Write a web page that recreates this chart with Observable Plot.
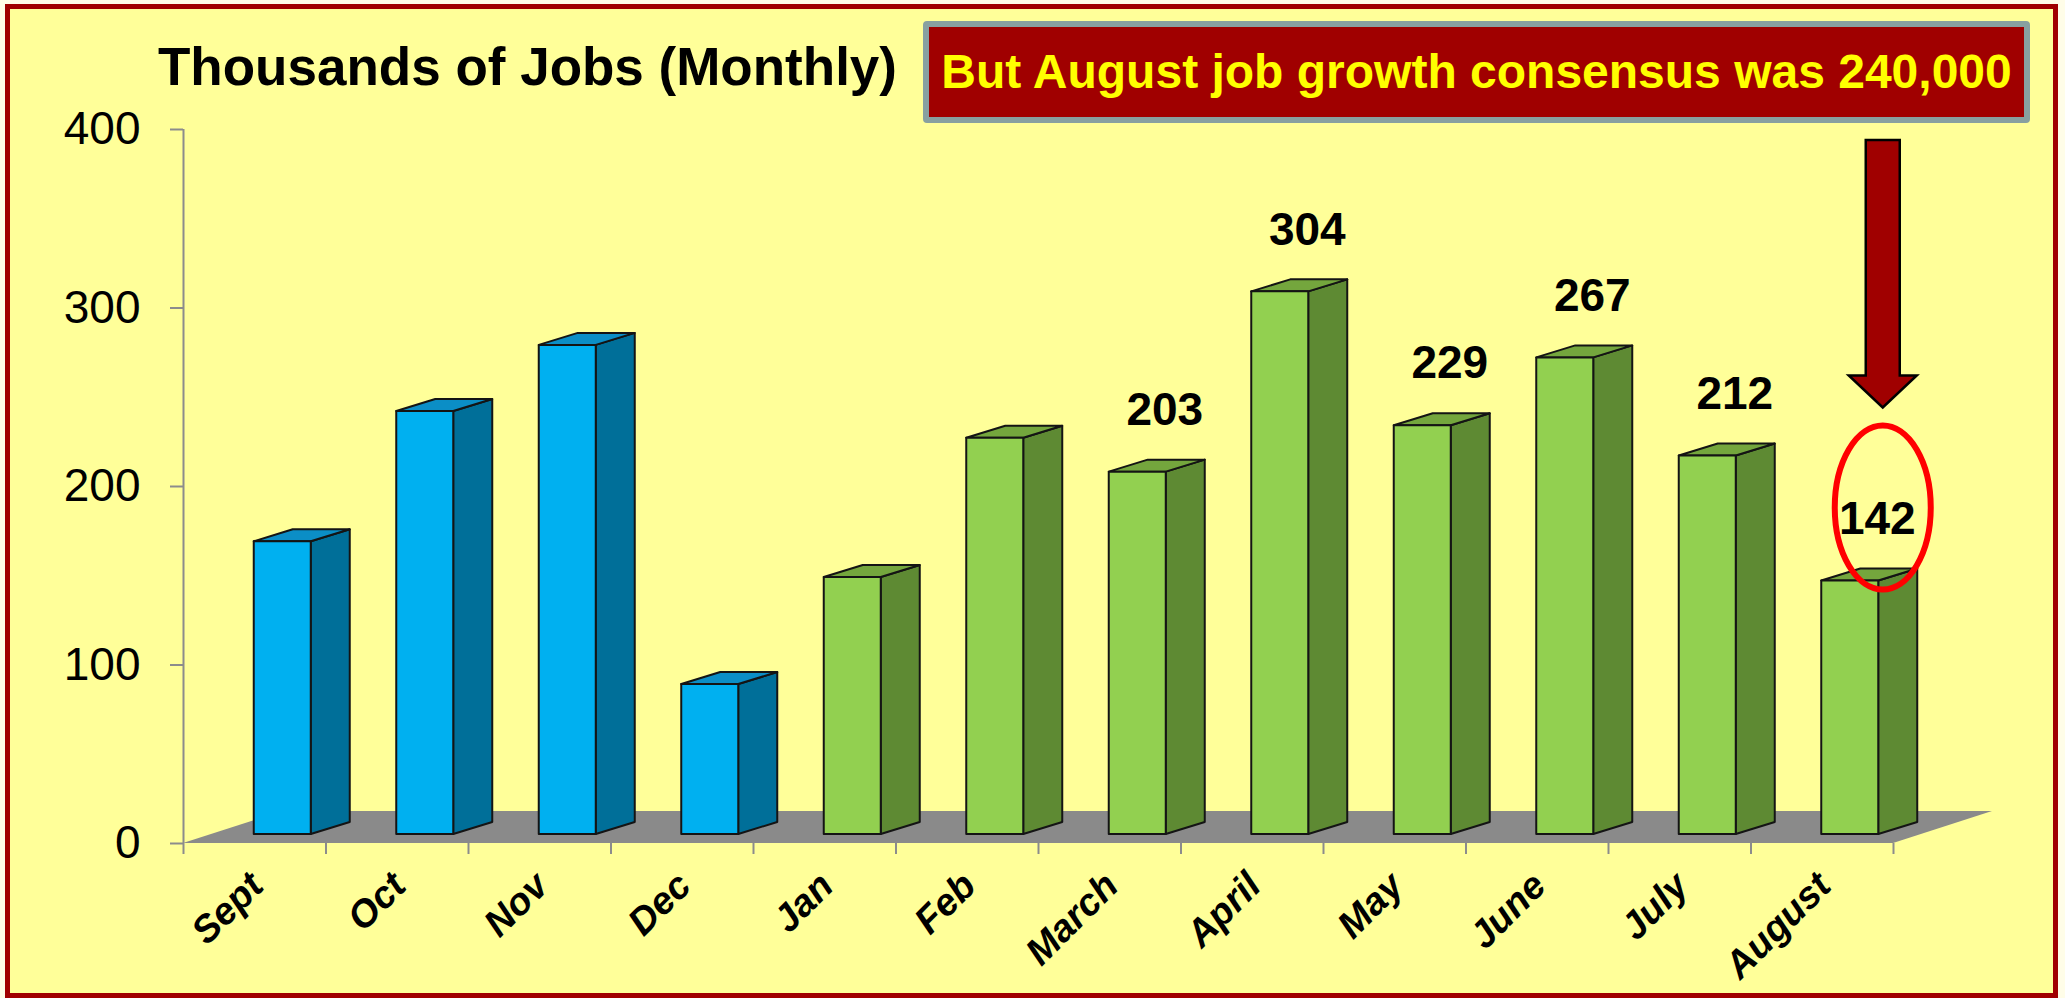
<!DOCTYPE html>
<html>
<head>
<meta charset="utf-8">
<script src="https://cdn.jsdelivr.net/npm/d3@7"></script>
<script src="https://cdn.jsdelivr.net/npm/@observablehq/plot@0.6"></script>
<style>
  html, body { margin: 0; padding: 0; width: 2065px; height: 998px; overflow: hidden; background: #fffde8;
    font-family: "Liberation Sans", Arial, Helvetica, sans-serif; }
  #frame { position: absolute; left: 5px; top: 4px; width: 2053px; height: 994px; box-sizing: border-box;
    border: 5px solid #a00000; background: #ffff99; }
  #chart { position: absolute; left: 0; top: 0; }
  #title { position: absolute; left: 158px; top: 40px; font-size: 53px; line-height: 53px; font-weight: bold;
    color: #000; white-space: nowrap; }
  #note { position: absolute; left: 923px; top: 21px; width: 1107px; height: 102px; box-sizing: border-box;
    border: 6px solid #88a0a0; border-radius: 4px; background: #a00000; }
  #noteText { position: absolute; left: 0; right: 0; top: 21px; text-align: center; font-size: 48px;
    line-height: 48px; font-weight: bold; color: #ffff00; white-space: nowrap; }
</style>
</head>
<body>
<div id="frame"></div>
<div id="chart"></div>
<div id="title">Thousands of Jobs (Monthly)</div>
<div id="note"><div id="noteText">But August job growth consensus was 240,000</div></div>
<script>
// ---- data ----
const months = ["Sept", "Oct", "Nov", "Dec", "Jan", "Feb", "March", "April", "May", "June", "July", "August"];
const jobs = [164, 237, 274, 84, 144, 222, 203, 304, 229, 267, 212, 142];
const years = [2013, 2013, 2013, 2013, 2014, 2014, 2014, 2014, 2014, 2014, 2014, 2014];
const labeledMonths = ["March", "April", "May", "June", "July", "August"];
const yTicks = [0, 100, 200, 300, 400];
const highlightMonth = "August";

// ---- styling ----
const palette = {
  2013: {front: "#00b0f0", side: "#006f99", top: "#0b8ec6"},
  2014: {front: "#92d050", side: "#5e8a33", top: "#74a63d"}
};
const W = 2065, H = 998;
const mL = 183, mR = 172, mT = 129, mB = 155;
const nCat = months.length;
const kx = (W - mL - mR) / nCat;      // px per category
const ky = (H - mT - mB) / 400;       // px per thousand
const barW = 0.4;
const plane = {dx: 28, dy: -9};       // bar plane offset (px)
const ddx = 39 / kx, ddy = 12 / ky;   // bar depth in data units
const fdx = 99 / kx, fdy = 32 / ky;   // floor depth in data units
const edge = {stroke: "#141414", strokeWidth: 2, strokeLinejoin: "round"};

const bars = months.map((m, i) => ({i, m, v: jobs[i], pal: palette[years[i]]}));
const sideData = bars.flatMap(b => [
  {i: b.i, x: b.i + 0.5 + barW / 2, y1: 0, y2: b.v, fill: b.pal.side},
  {i: b.i, x: b.i + 0.5 + barW / 2 + ddx, y1: ddy, y2: b.v + ddy, fill: b.pal.side}
]);
const topData = bars.flatMap(b => [
  {i: b.i, y: b.v, x1: b.i + 0.5 - barW / 2, x2: b.i + 0.5 + barW / 2, fill: b.pal.top},
  {i: b.i, y: b.v + ddy, x1: b.i + 0.5 - barW / 2 + ddx, x2: b.i + 0.5 + barW / 2 + ddx, fill: b.pal.top}
]);
const floorData = [
  {y: 0, x1: 0, x2: nCat},
  {y: fdy, x1: fdx, x2: nCat + fdx}
];
const labelData = bars.filter(b => labeledMonths.includes(b.m));
const hi = bars.find(b => b.m === highlightMonth);

function annotation(index, scales) {
  const sx = scales.x, sy = scales.y;
  const cx = sx(hi.i + 0.5) + 61;
  const cy = sy(hi.v) - 82;
  const g = d3.create("svg:g");
  // arrow
  const top = 140, tip = cy - 82 - 18, headBase = tip - 32, sw = 17, hw = 34;
  g.append("path")
    .attr("d", `M${cx - sw},${top} L${cx + sw},${top} L${cx + sw},${headBase} L${cx + hw},${headBase} L${cx},${tip} L${cx - hw},${headBase} L${cx - sw},${headBase} Z`)
    .attr("fill", "#a00000").attr("stroke", "#000").attr("stroke-width", 2.5).attr("stroke-linejoin", "miter");
  // ellipse
  g.append("ellipse").attr("cx", cx).attr("cy", cy).attr("rx", 48).attr("ry", 82)
    .attr("fill", "none").attr("stroke", "#ff0000").attr("stroke-width", 6);
  return g.node();
}

const chart = Plot.plot({
  width: W, height: H,
  marginLeft: mL, marginRight: mR, marginTop: mT, marginBottom: mB,
  x: {domain: [0, nCat], axis: null},
  y: {domain: [0, 400], axis: null},
  color: {type: "identity"},
  style: {background: "transparent", fontFamily: "Liberation Sans, Arial, sans-serif", color: "#000", overflow: "visible"},
  marks: [
    // floor
    Plot.area(floorData, {x1: "x1", x2: "x2", y1: "y", fill: "#8a8a8a"}),
    // y axis
    Plot.ruleX([0], {y1: 0, y2: 400, stroke: "#8c8c8c", strokeWidth: 2}),
    Plot.axisY({ticks: yTicks, tickSize: 13, tickPadding: 30, fontSize: 46, stroke: "#8c8c8c", strokeWidth: 2, fill: "#000", label: null, tickFormat: d => String(d)}),
    // x ticks at category boundaries
    Plot.axisX({ticks: d3.range(nCat + 1), tickSize: 11, tickFormat: () => "", stroke: "#8c8c8c", strokeWidth: 2, label: null}),
    // x labels
    Plot.text(bars, {x: b => b.i + 0.5, y: 0, text: "m", rotate: -45, textAnchor: "end", dx: 2, dy: 36,
      fontSize: 38, fontWeight: "bold", fontStyle: "italic", fill: "#000"}),
    // bar faces
    Plot.area(sideData, {x1: "x", y1: "y1", y2: "y2", z: "i", fill: "fill", ...edge, dx: plane.dx, dy: plane.dy}),
    Plot.area(topData, {x1: "x1", x2: "x2", y1: "y", z: "i", fill: "fill", ...edge, dx: plane.dx, dy: plane.dy}),
    Plot.rect(bars, {x1: b => b.i + 0.5 - barW / 2, x2: b => b.i + 0.5 + barW / 2, y1: 0, y2: "v",
      fill: b => b.pal.front, ...edge, dx: plane.dx, dy: plane.dy}),
    // value labels
    Plot.text(labelData, {x: b => b.i + 0.5, y: "v", text: b => String(b.v), dx: 55, dy: -71,
      fontSize: 46, fontWeight: "bold", fill: "#000"}),
    annotation
  ]
});
document.getElementById("chart").appendChild(chart);
</script>
</body>
</html>
